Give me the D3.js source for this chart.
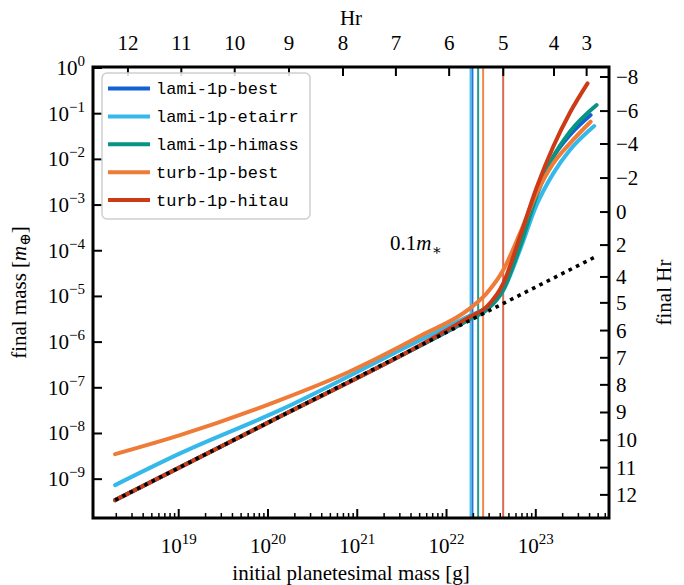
<!DOCTYPE html>
<html><head><meta charset="utf-8">
<script src="https://cdn.jsdelivr.net/npm/d3@7"></script>
<style>body{margin:0;background:#fff}svg{display:block}</style>
</head><body>
<svg id="chart" width="684" height="585"></svg>
<script>
// ---------- data ----------
const seriesNames = ["lami-1p-best", "lami-1p-etairr", "lami-1p-himass", "turb-1p-best", "turb-1p-hitau"];
const seriesColors = ["#1262d4", "#35b8ea", "#079483", "#ef7b38", "#cc3a16"];

// initial planetesimal mass [g] and final mass [Earth masses]
const lamiBestM  = [1.94e18, 1.0e20, 5.04e21, 1.83e22, 2.81e22, 4.32e22, 6.64e22, 1.02e23, 1.57e23, 2.41e23, 4.11e23];
const lamiBestF  = [3.48e-10, 1.73e-8, 8.32e-7, 3.24e-6, 5.56e-6, 1.60e-5, 1.47e-4, 1.78e-3, 1.12e-2, 3.41e-2, 9.35e-2];
const etairrM    = [1.94e18, 1.035e19, 1.36e20, 5.04e21, 1.83e22, 2.81e22, 4.32e22, 6.64e22, 1.02e23, 1.57e23, 2.41e23, 4.51e23];
const etairrF    = [7.41e-10, 3.66e-9, 3.24e-8, 1.107e-6, 3.80e-6, 5.75e-6, 1.377e-5, 1.035e-4, 1.0e-3, 4.94e-3, 1.60e-2, 5.37e-2];
const himassM    = [1.94e18, 1.0e20, 5.04e21, 1.83e22, 2.81e22, 4.32e22, 6.64e22, 1.02e23, 1.57e23, 2.41e23, 4.80e23];
const himassF    = [3.48e-10, 1.73e-8, 8.32e-7, 3.19e-6, 5.02e-6, 1.377e-5, 1.22e-4, 1.58e-3, 1.14e-2, 4.03e-2, 0.155];
const turbBestM  = [1.94e18, 1.035e19, 1.36e20, 7.9e20, 5.04e21, 1.83e22, 2.81e22, 4.32e22, 6.64e22, 1.02e23, 1.57e23, 2.41e23, 4.11e23];
const turbBestF  = [3.53e-9, 9.20e-9, 5.37e-8, 2.19e-7, 1.355e-6, 5.47e-6, 1.167e-5, 3.78e-5, 2.40e-4, 1.80e-3, 8.18e-3, 2.24e-2, 6.67e-2];
const hitauM     = [1.94e18, 1.0e20, 5.04e21, 1.83e22, 2.81e22, 4.32e22, 6.64e22, 1.02e23, 1.57e23, 2.41e23, 3.80e23];
const hitauF     = [3.48e-10, 1.73e-8, 8.5e-7, 3.58e-6, 5.93e-6, 1.93e-5, 2.02e-4, 2.40e-3, 1.91e-2, 0.105, 0.462];
// 0.1 m_* reference line
const refM = [1.94e18, 4.83e23];
const refF = [3.48e-10, 7.64e-5];
// vertical markers (initial mass) per series
const markerM = [1.95e22, 1.86e22, 2.26e22, 2.57e22, 4.31e22];

// axis ticks
const xMajorTicks = [1e19, 1e20, 1e21, 1e22, 1e23];
const yMajorTicks = [1e0, 1e-1, 1e-2, 1e-3, 1e-4, 1e-5, 1e-6, 1e-7, 1e-8, 1e-9];
const topHrLabels = ["12", "11", "10", "9", "8", "7", "6", "5", "4", "3"];
const topHrMass   = [2.70e18, 1.07e19, 4.24e19, 1.72e20, 6.92e20, 2.71e21, 1.07e22, 4.32e22, 1.60e23, 3.71e23];
const rightHrLabels = ["\u22128", "\u22126", "\u22124", "\u22122", "0", "2", "4", "5", "6", "7", "8", "9", "10", "11", "12"];
const rightHrMass   = [0.635, 0.114, 2.17e-2, 3.90e-3, 7.03e-4, 1.33e-4, 2.67e-5, 7.23e-6, 1.79e-6, 4.54e-7, 1.16e-7, 2.88e-8, 7.10e-9, 1.79e-9, 4.53e-10];

// ---------- layout ----------
const L = 93, R = 609, T = 67, B = 518;
const svg = d3.select("#chart");
const x = d3.scaleLog().domain([Math.pow(10, 18.04), Math.pow(10, 23.82)]).range([L, R]);
const y = d3.scaleLog().domain([Math.pow(10, -9.85), Math.pow(10, 0.022)]).range([B, T]);
const serif = "'Liberation Serif','DejaVu Serif',serif";
const fs = 21;

const plot = svg.append("g");
plot.append("clipPath").attr("id", "clip").append("rect").attr("x", L).attr("y", T).attr("width", R - L).attr("height", B - T);

// vertical markers
const gv = plot.append("g").attr("clip-path", "url(#clip)");
markerM.forEach((m, i) => {
  gv.append("line").attr("x1", x(m)).attr("x2", x(m)).attr("y1", T).attr("y2", B)
    .attr("stroke", seriesColors[i]).attr("stroke-width", 2).attr("stroke-opacity", i === 4 ? 0.75 : 0.9);
});

// curves
const seriesM = [lamiBestM, etairrM, himassM, turbBestM, hitauM];
const seriesF = [lamiBestF, etairrF, himassF, turbBestF, hitauF];
const line = d3.line().x(d => x(d[0])).y(d => y(d[1])).curve(d3.curveMonotoneX);
const gc = plot.append("g").attr("clip-path", "url(#clip)");
seriesM.forEach((ms, i) => {
  const pts = ms.map((m, j) => [m, seriesF[i][j]]);
  gc.append("path").attr("d", line(pts)).attr("fill", "none")
    .attr("stroke", seriesColors[i]).attr("stroke-width", 4).attr("stroke-linecap", "round");
});
gc.append("path").attr("d", d3.line().x(d => x(d[0])).y(d => y(d[1]))(refM.map((m, j) => [m, refF[j]])))
  .attr("fill", "none").attr("stroke", "#000").attr("stroke-width", 3.6).attr("stroke-dasharray", "3.6 4.6");

// 0.1 m_* annotation
const ann = svg.append("text").attr("x", 390).attr("y", 250).attr("font-family", serif).attr("font-size", fs);
ann.append("tspan").text("0.1");
ann.append("tspan").attr("font-style", "italic").text("m");
ann.append("tspan").attr("font-size", 15).attr("dy", 5).text("\u2217");

// ---------- axes ----------
const ga = svg.append("g");
const xMinor = [];
for (let e = 18; e <= 23; e++) for (let k = 2; k <= 9; k++) { const v = k * Math.pow(10, e); if (x(v) > L + 1 && x(v) < R - 1) xMinor.push(v); }
xMinor.forEach(v => ga.append("line").attr("x1", x(v)).attr("x2", x(v)).attr("y1", B).attr("y2", B - 5).attr("stroke", "#000").attr("stroke-width", 1.5));
xMajorTicks.forEach(v => {
  ga.append("line").attr("x1", x(v)).attr("x2", x(v)).attr("y1", B).attr("y2", B - 9).attr("stroke", "#000").attr("stroke-width", 2);
  const t = ga.append("text").attr("x", x(v)).attr("y", 553).attr("text-anchor", "middle").attr("font-family", serif).attr("font-size", fs);
  t.append("tspan").text("10");
  t.append("tspan").attr("font-size", 15).attr("dy", -9).text(String(Math.round(Math.log10(v))));
});
yMajorTicks.forEach(v => {
  ga.append("line").attr("x1", L).attr("x2", L + 9).attr("y1", y(v)).attr("y2", y(v)).attr("stroke", "#000").attr("stroke-width", 2);
  const e = Math.round(Math.log10(v));
  const t = ga.append("text").attr("x", 85).attr("y", y(v) + 7).attr("text-anchor", "end").attr("font-family", serif).attr("font-size", fs);
  t.append("tspan").text("10");
  t.append("tspan").attr("font-size", 15).attr("dy", -9).text(e === 0 ? "0" : "\u2212" + Math.abs(e));
});
topHrMass.forEach((m, i) => {
  ga.append("line").attr("x1", x(m)).attr("x2", x(m)).attr("y1", T).attr("y2", T + 9).attr("stroke", "#000").attr("stroke-width", 2);
  ga.append("text").attr("x", x(m)).attr("y", 50).attr("text-anchor", "middle").attr("font-family", serif).attr("font-size", fs).text(topHrLabels[i]);
});
rightHrMass.forEach((m, i) => {
  ga.append("line").attr("x1", R).attr("x2", R - 9).attr("y1", y(m)).attr("y2", y(m)).attr("stroke", "#000").attr("stroke-width", 2);
  ga.append("text").attr("x", 616).attr("y", y(m) + 7).attr("font-family", serif).attr("font-size", fs).text(rightHrLabels[i]);
});
ga.append("rect").attr("x", L).attr("y", T).attr("width", R - L).attr("height", B - T).attr("fill", "none").attr("stroke", "#000").attr("stroke-width", 3);

// axis titles
svg.append("text").attr("x", (L + R) / 2).attr("y", 25).attr("text-anchor", "middle").attr("font-family", serif).attr("font-size", fs).text("Hr");
svg.append("text").attr("x", (L + R) / 2).attr("y", 580).attr("text-anchor", "middle").attr("font-family", serif).attr("font-size", fs).text("initial planetesimal mass [g]");
const yl = svg.append("text").attr("transform", `translate(26,${(T + B) / 2}) rotate(-90)`).attr("text-anchor", "middle").attr("font-family", serif).attr("font-size", fs);
yl.append("tspan").text("final mass [");
yl.append("tspan").attr("font-style", "italic").text("m");
yl.append("tspan").attr("font-size", 15).attr("dy", 4).text("\u2295");
yl.append("tspan").attr("dy", -4).text("]");
svg.append("text").attr("transform", `translate(671,${(T + B) / 2}) rotate(-90)`).attr("text-anchor", "middle").attr("font-family", serif).attr("font-size", fs).text("final Hr");

// ---------- legend ----------
const lg = svg.append("g");
lg.append("rect").attr("x", 102).attr("y", 73).attr("width", 208).attr("height", 146).attr("rx", 5)
  .attr("fill", "#fff").attr("fill-opacity", 0.85).attr("stroke", "#cfcfcf").attr("stroke-width", 1.5);
seriesNames.forEach((n, i) => {
  const yy = 88.5 + i * 27.9;
  lg.append("line").attr("x1", 108).attr("x2", 150).attr("y1", yy).attr("y2", yy).attr("stroke", seriesColors[i]).attr("stroke-width", 4);
  lg.append("text").attr("x", 156).attr("y", yy + 5.5).attr("font-family", "'Liberation Mono','DejaVu Sans Mono',monospace").attr("font-size", 17).text(n);
});
</script>
</body></html>
